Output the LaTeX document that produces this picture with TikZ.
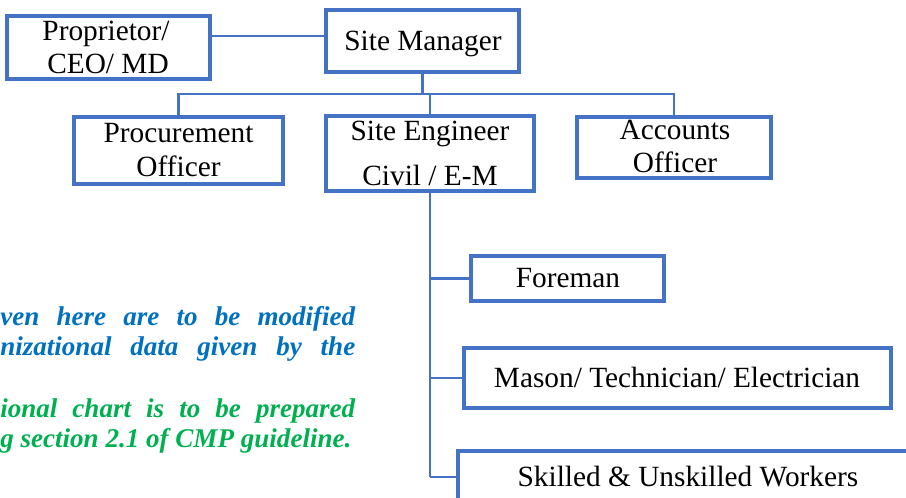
\documentclass[tikz,border=0pt]{standalone}
\usepackage{fontspec}
\setmainfont{Liberation Serif}
\definecolor{boxblue}{HTML}{4472C4}
\definecolor{noteblue}{HTML}{0070C0}
\definecolor{notegreen}{HTML}{00B050}
\begin{document}
\begin{tikzpicture}[x=0.75pt,y=-0.75pt,
  box/.style={draw=boxblue, line width=2.3pt, fill=white, inner sep=0pt, rectangle},
  conn/.style={draw=boxblue, line width=2.2pt},
  lbl/.style={anchor=base, inner sep=0pt, font=\fontsize{22}{26}\selectfont},
  note/.style={anchor=base west, inner sep=0pt, font=\fontsize{20.3}{22.5}\selectfont\bfseries\itshape}]
\useasboundingbox (0,0) rectangle (906,497);
\clip (0,0) rectangle (906,497);

% boxes
\node[box, minimum width=152.25pt, minimum height=47.25pt] (prop) at (108.5,47.5) {};
\node[box, minimum width=144.75pt, minimum height=46.5pt] (sm) at (422.5,41) {};
\node[box, minimum width=156.75pt, minimum height=50.25pt] (proc) at (178.5,150.5) {};
\node[box, minimum width=156pt, minimum height=56.25pt] (se) at (430,153.5) {};
\node[box, minimum width=145.5pt, minimum height=45.75pt] (acc) at (674,147.5) {};
\node[box, minimum width=144.75pt, minimum height=33.75pt] (fore) at (567.5,278.5) {};
\node[box, minimum width=320.25pt, minimum height=45pt] (mason) at (677.5,378) {};
\node[box, minimum width=354pt, minimum height=39pt] (skill) at (694,477) {};

% texts
\node[lbl] (propA) at (106,40) {Proprietor/};
\node[lbl] (propB) at (108,73) {CEO/ MD};
\node[lbl] (smA) at (423,50) {Site Manager};
\node[lbl] (procA) at (178.5,142) {Procurement};
\node[lbl] (procB) at (178.5,176) {Officer};
\node[lbl] (seA) at (430,140) {Site Engineer};
\node[lbl] (seB) at (430,185) {Civil / E-M};
\node[lbl] (accA) at (675,139) {Accounts};
\node[lbl] (accB) at (675,172) {Officer};
\node[lbl] (foreA) at (568,287) {Foreman};
\node[lbl] (masonA) at (677,387) {Mason/ Technician/ Electrician};
\node[lbl] (skillA) at (688,486) {Skilled \& Unskilled Workers};

% connectors
\coordinate (jtop) at (0,36);
\coordinate (bus) at (0,94);
\coordinate (trunkend) at (430,477);
\draw[conn] (prop.east |- jtop) -- (sm.west |- jtop);
\draw[conn] (sm.south) -- (sm.south |- bus);
\draw[conn] (proc.north) -- (proc.north |- bus) -- (acc.north |- bus) -- (acc.north);
\draw[conn] (se.north) -- (se.north |- bus);
\draw[conn] (se.south) -- (trunkend);
\draw[conn] (fore.west) -- (fore.west -| trunkend);
\draw[conn] (mason.west) -- (mason.west -| trunkend);
\draw[conn] (skill.west) -- (trunkend);

% note text
\node[note, text=noteblue] (n1) at (0,325) {\makebox[266.25pt][s]{ven here are to be modified}};
\node[note, text=noteblue] (n2) at (0,355) {\makebox[266.25pt][s]{nizational data given by the}};
\node[note, text=notegreen] (n3) at (0,417) {\makebox[266.25pt][s]{ional chart is to be prepared}};
\node[note, text=notegreen] (n4) at (0,447) {g section 2.1 of CMP guideline.};
\end{tikzpicture}
\end{document}
